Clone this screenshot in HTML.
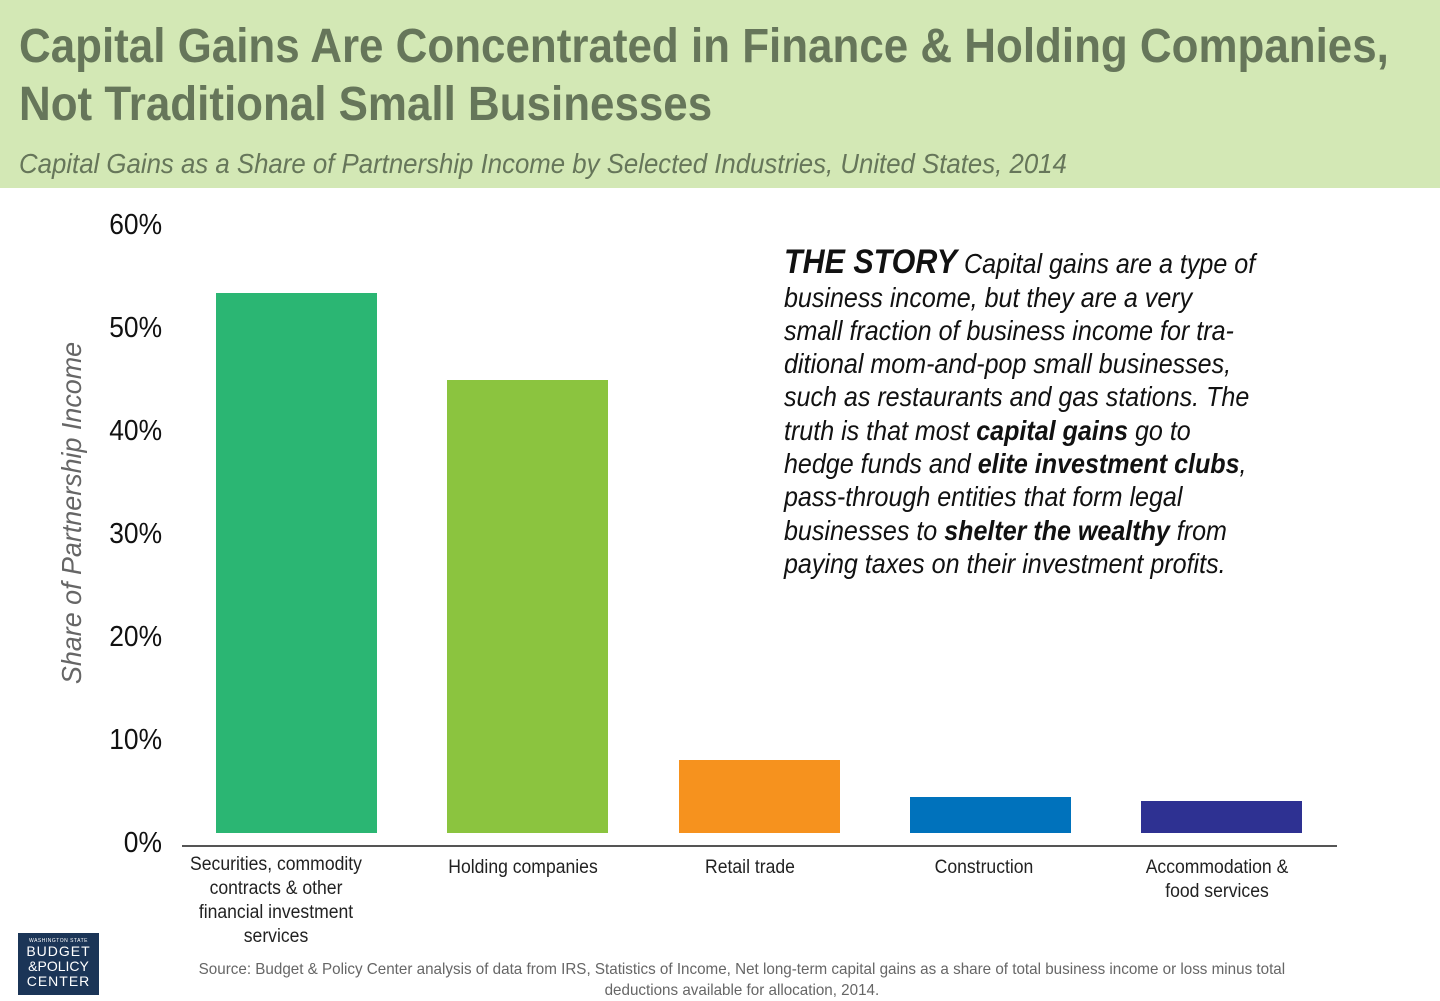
<!DOCTYPE html>
<html><head><meta charset="utf-8"><style>
body{margin:0;width:1440px;height:1001px;background:#fff;position:relative;overflow:hidden;font-family:"Liberation Sans",sans-serif}
.a{position:absolute;white-space:nowrap}
.hd{position:absolute;left:0;top:0;width:1440px;height:188px;background:#d3e8b5}
.t{color:#66765a;font-weight:bold;font-size:48px;left:19px;line-height:56px;transform:scaleX(0.915);transform-origin:0 0}
.sub{color:#66765a;font-style:italic;font-size:28px;left:19px;top:146px;line-height:36px;transform:scaleX(0.921);transform-origin:0 0}
.tk{right:1278px;font-size:29px;color:#111;line-height:34px;text-align:right;transform:scaleX(0.91);transform-origin:100% 0}
.bar{position:absolute}
.st{left:784px;font-size:28px;font-style:italic;color:#111;line-height:33.4px;transform:scaleX(0.895);transform-origin:0 0}
.st b{font-weight:bold}
.cl{font-size:19px;color:#222;text-align:center;line-height:24px;transform:scaleX(0.925)}
</style></head><body>
<div class="hd"></div>
<div class="a t" style="top:19px">Capital Gains Are Concentrated in Finance &amp; Holding Companies,</div>
<div class="a t" style="top:77px">Not Traditional Small Businesses</div>
<div class="a sub">Capital Gains as a Share of Partnership Income by Selected Industries, United States, 2014</div>

<div class="a tk" style="top:208px">60%</div>
<div class="a tk" style="top:311px">50%</div>
<div class="a tk" style="top:414px">40%</div>
<div class="a tk" style="top:517px">30%</div>
<div class="a tk" style="top:620px">20%</div>
<div class="a tk" style="top:723px">10%</div>
<div class="a tk" style="top:826px">0%</div>
<div class="a" style="left:72px;top:513px;transform:translate(-50%,-50%) rotate(-90deg) scaleX(0.96);font-style:italic;font-size:28px;color:#666">Share of Partnership Income</div>

<div class="bar" style="left:216px;width:161px;top:293px;height:540px;background:#2bb673"></div>
<div class="bar" style="left:447px;width:161px;top:380px;height:453px;background:#8bc43f"></div>
<div class="bar" style="left:679px;width:161px;top:760px;height:73px;background:#f6921e"></div>
<div class="bar" style="left:910px;width:161px;top:797px;height:36px;background:#0072bc"></div>
<div class="bar" style="left:1141px;width:161px;top:801px;height:32px;background:#2e3192"></div>
<div class="a" style="left:182px;top:845px;width:1155px;height:2px;background:#555"></div>

<div class="a cl" style="left:176px;width:200px;top:853px">Securities, commodity<br>contracts &amp; other<br>financial investment<br>services</div>
<div class="a cl" style="left:423px;width:200px;top:856px">Holding companies</div>
<div class="a cl" style="left:650px;width:200px;top:856px">Retail trade</div>
<div class="a cl" style="left:884px;width:200px;top:856px">Construction</div>
<div class="a cl" style="left:1117px;width:200px;top:856px">Accommodation &amp;<br>food services</div>

<div class="a st" style="top:246px"><b style="font-size:34px">THE STORY</b> Capital gains are a type of</div>
<div class="a st" style="top:281px">business income, but they are a very</div>
<div class="a st" style="top:314px">small fraction of business income for tra-</div>
<div class="a st" style="top:347px">ditional mom-and-pop small businesses,</div>
<div class="a st" style="top:380px">such as restaurants and gas stations. The</div>
<div class="a st" style="top:414px">truth is that most <b>capital gains</b> go to</div>
<div class="a st" style="top:447px">hedge funds and <b>elite investment clubs</b>,</div>
<div class="a st" style="top:480px">pass-through entities that form legal</div>
<div class="a st" style="top:514px">businesses to <b>shelter the wealthy</b> from</div>
<div class="a st" style="top:547px">paying taxes on their investment profits.</div>

<div class="a" style="left:18px;top:933px;width:81px;height:62px;background:#1b3557;color:#fff;text-align:center">
<div style="font-size:5px;margin-top:5px;letter-spacing:.5px">WASHINGTON STATE</div>
<div style="font-size:14px;line-height:15px;letter-spacing:1px">BUDGET</div>
<div style="font-size:14px;line-height:15px">&amp;POLICY</div>
<div style="font-size:14px;line-height:15px;letter-spacing:1px">CENTER</div>
</div>
<div class="a" style="left:37px;top:959px;width:1484px;text-align:center;font-size:16px;color:#666;line-height:21px;transform:scaleX(0.95);transform-origin:0 0">Source: Budget &amp; Policy Center analysis of data from IRS, Statistics of Income, Net long-term capital gains as a share of total business income or loss minus total<br>deductions available for allocation, 2014.</div>
</body></html>
